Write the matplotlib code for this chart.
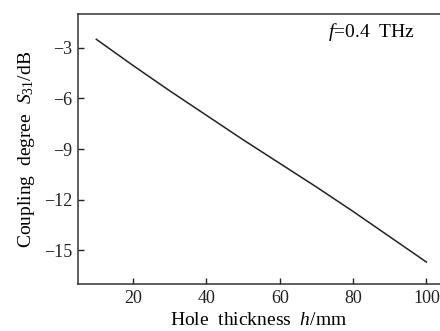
import matplotlib
matplotlib.use("Agg")
import matplotlib.pyplot as plt

# values
thickness = [10, 20, 30, 40, 50, 60, 70, 80, 90, 100]
s31 = [-2.5, -4.05, -5.55, -7.0, -8.45, -9.85, -11.25, -12.7, -14.2, -15.7]

xticks = [20, 40, 60, 80, 100]
yticks = [-3, -6, -9, -12, -15]

plt.rcParams["font.family"] = "Liberation Serif"
plt.rcParams["mathtext.fontset"] = "custom"
plt.rcParams["mathtext.rm"] = "Liberation Serif"
plt.rcParams["mathtext.it"] = "Liberation Serif:italic"

fig = plt.figure(figsize=(4.4, 3.31), dpi=100)
ax = fig.add_axes([78 / 440, 47 / 331, 1 - 78 / 440, 270 / 331])

ax.plot(thickness, s31, color="#222222", linewidth=1.1)

ax.set_xlim(5, 103.7)
ax.set_ylim(-17, -1)
ax.set_xticks(xticks)
ax.set_yticks(yticks)
ax.set_yticklabels(["\u2212" + str(-v) for v in yticks])
ax.tick_params(direction="in", length=4, width=1, labelsize=13, colors="#222222", pad=4)

for side in ["left", "bottom", "top"]:
    ax.spines[side].set_linewidth(1.1)
    ax.spines[side].set_color("#333333")
ax.spines["right"].set_visible(False)

ax.set_xlabel(r"Hole  thickness  $\mathit{h}$/mm", fontsize=14, labelpad=4)
ax.set_ylabel(r"Coupling  degree  $\mathit{S}_{31}$/dB", fontsize=14, labelpad=5)

ax.text(0.93, 0.935, r"$\mathit{f}$=0.4  THz", transform=ax.transAxes,
        ha="right", va="center", fontsize=14)

plt.savefig("out.png", dpi=100)
